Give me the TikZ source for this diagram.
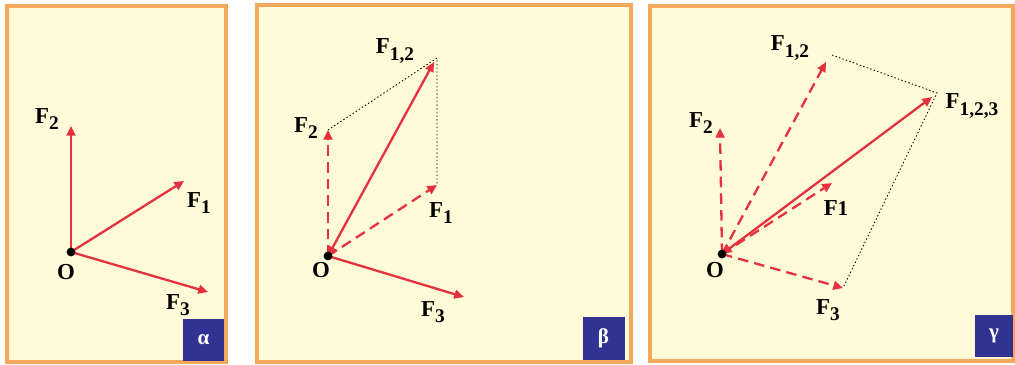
\documentclass[tikz,border=0pt]{standalone}
\usepackage{fontspec}
\setmainfont{Liberation Serif}
\usetikzlibrary{arrows.meta}
\definecolor{paper}{HTML}{FFFAD8}
\definecolor{rim}{HTML}{F3A85C}
\definecolor{vec}{HTML}{E5303E}
\definecolor{tagblue}{HTML}{303391}
\newcommand{\lo}[1]{\raisebox{-0.6ex}{\fontsize{11}{13}\selectfont #1}}
\tikzset{
  force/.style={vec,line width=1.3pt,-{Triangle[length=5.5pt,width=5pt]}},
  part/.style={force,dash pattern=on 6pt off 3.5pt},
  total/.style={force,{Triangle[length=5.5pt,width=5pt]}-{Triangle[length=5.5pt,width=5pt]}},
  guide/.style={black,line width=0.5pt,dash pattern=on 0.8pt off 1.3pt},
  lbl/.style={font=\bfseries\fontsize{13}{15}\selectfont,inner sep=0pt},
  panel/.style={fill=paper,draw=rim,line width=1.9pt},
  dot/.style={circle,fill=black,inner sep=0pt,minimum size=5pt},
  tagbox/.style={fill=tagblue,text=white,font=\bfseries\large,inner sep=0pt,
    minimum width=0.84cm,minimum height=0.86cm}
}
\begin{document}
\begin{tikzpicture}[x=0.02cm,y=-0.02cm]
\useasboundingbox (0,0) rectangle (1015,365);
% ---------- (alpha) ----------
\begin{scope}[name prefix=a-]
\draw[panel] (7,6) rectangle (226,362);
\coordinate (O) at (71,252);
\coordinate (t1) at (184,181);
\coordinate (t2) at (71,126);
\coordinate (t3) at (208,292);
\draw[force] (O) -- (t1);
\draw[force] (O) -- (t2);
\draw[force] (O) -- (t3);
\node[dot] (Odot) at (O) {};
\node[lbl] (lO) at (66,272) {O};
\node[lbl] (l1) at (199,203) {F\lo{1}};
\node[lbl] (l2) at (47,119) {F\lo{2}};
\node[lbl] (l3) at (178,305) {F\lo{3}};
\node[tagbox] (tag) at (203.5,340) {α};
\end{scope}
% ---------- (beta) ----------
\begin{scope}[name prefix=b-]
\draw[panel] (257,5) rectangle (631,362);
\coordinate (O) at (328,256);
\coordinate (t1) at (437,185);
\coordinate (t2) at (328,130);
\coordinate (t3) at (464,297);
\coordinate (t12) at (434,62);
\coordinate (c12) at (437,58);
\draw[guide] (t2) -- (c12) -- (t1);
\draw[part] (O) -- (t1);
\draw[part] (O) -- (t2);
\draw[force] (O) -- (t3);
\draw[total] (O) -- (t12);
\node[dot] (Odot) at (O) {};
\node[lbl] (lO) at (321,270) {O};
\node[lbl] (l1) at (441,213) {F\lo{1}};
\node[lbl] (l2) at (306,128) {F\lo{2}};
\node[lbl] (l3) at (433,312) {F\lo{3}};
\node[lbl] (l12) at (395,51) {F\lo{1,2}};
\node[tagbox] (tag) at (603.5,338.5) {β};
\end{scope}
% ---------- (gamma) ----------
\begin{scope}[name prefix=c-]
\draw[panel] (650,6) rectangle (1013,361);
\coordinate (O) at (722,254);
\coordinate (t1) at (832,183);
\coordinate (t2) at (720,128);
\coordinate (t3) at (843,288);
\coordinate (t12) at (826,62);
\coordinate (c12) at (832,55);
\coordinate (t123) at (932,97);
\coordinate (c123) at (937,93);
\draw[guide] (c12) -- (c123) -- (t3);
\draw[part] (O) -- (t1);
\draw[part] (O) -- (t2);
\draw[part] (O) -- (t3);
\draw[part] (O) -- (t12);
\draw[total] (O) -- (t123);
\node[dot] (Odot) at (O) {};
\node[lbl] (lO) at (715,270) {O};
\node[lbl] (l1) at (836,208) {F{\fontsize{12}{14}\selectfont 1}};
\node[lbl] (l2) at (701,123) {F\lo{2}};
\node[lbl] (l3) at (828,310) {F\lo{3}};
\node[lbl] (l12) at (790,48) {F\lo{1,2}};
\node[lbl] (l123) at (972,106) {F\lo{1,2,3}};
\node[tagbox,minimum width=0.76cm,minimum height=0.84cm] (tag) at (994,336) {γ};
\end{scope}
\end{tikzpicture}
\end{document}
